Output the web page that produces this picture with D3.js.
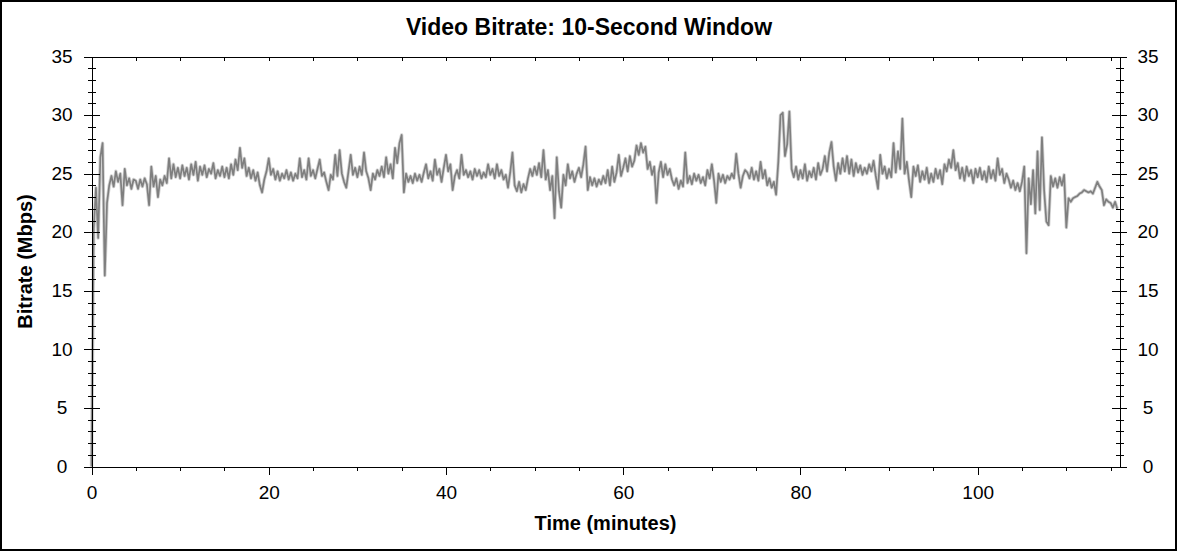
<!DOCTYPE html>
<html><head><meta charset="utf-8">
<script src="https://cdn.jsdelivr.net/npm/d3@7"></script>
<style>
body{margin:0;background:#fff}
svg{display:block}
text{font-family:"Liberation Sans", Arial, sans-serif;fill:#000}
</style>
</head><body>
<svg id="c" width="1178" height="552"></svg>
<script>
const chartTitle = "Video Bitrate: 10-Second Window";
const xLabel = "Time (minutes)";
const yLabel = "Bitrate (Mbps)";
const stepMinutes = 0.25;
// Bitrate (Mbps), one value every 0.25 minute
const bitrate = [
  0, 20.3, 23.8, 19.5, 26.4, 27.6, 16.3, 22.5, 24.0, 24.8, 23.9, 25.2, 24.3, 25.0, 22.3, 25.4, 24.0, 24.6, 23.7, 24.5,
  24.4, 23.7, 24.5, 23.9, 24.6, 24.1, 22.3, 25.6, 23.9, 24.8, 23.0, 24.5, 24.0, 24.8, 24.2, 26.3, 24.6, 25.8, 24.7, 25.5,
  24.6, 25.7, 24.8, 25.5, 24.5, 25.8, 24.9, 26.0, 24.4, 25.6, 24.9, 25.7, 24.7, 25.4, 25.0, 25.9, 24.6, 25.3, 24.8, 25.6,
  24.7, 25.5, 24.6, 25.8, 24.9, 26.2, 25.3, 27.2, 25.5, 26.3, 24.8, 25.5, 24.6, 25.3, 24.4, 25.1, 24.0, 23.4, 24.5, 25.2,
  26.3, 24.9, 25.4, 24.5, 25.2, 24.4, 25.0, 24.6, 25.3, 24.5, 25.1, 24.4, 25.0, 24.6, 26.3, 24.7, 25.3, 24.5, 26.3, 24.8,
  25.3, 24.6, 25.4, 26.2, 24.8, 25.1, 24.3, 23.6, 24.9, 24.5, 26.6, 24.8, 27.0, 25.0, 24.3, 23.8, 25.2, 26.6, 24.9, 25.5,
  24.7, 25.6, 24.9, 26.8, 25.2, 24.6, 23.6, 25.0, 24.5, 25.3, 24.8, 25.6, 24.7, 26.4, 25.0, 25.8, 24.6, 27.2, 25.9, 27.6,
  28.3, 23.4, 25.0, 24.3, 24.8, 24.2, 25.0, 24.4, 24.9, 24.3, 25.1, 25.8, 24.6, 25.2, 24.4, 26.2, 24.9, 25.4, 24.3, 25.5,
  26.6, 25.2, 25.8, 23.6, 24.8, 25.3, 24.6, 26.6, 24.9, 25.3, 24.7, 25.2, 24.5, 25.4, 24.8, 25.3, 24.6, 25.1, 24.7, 25.8,
  24.9, 25.4, 24.6, 25.8, 24.8, 25.3, 24.5, 24.9, 23.8, 25.1, 26.8, 24.0, 23.5, 24.3, 23.4, 24.1, 23.6, 24.6, 25.4, 24.8,
  25.6, 24.9, 25.9, 24.7, 27.0, 24.5, 25.3, 23.6, 24.8, 21.2, 26.4, 23.5, 22.1, 24.9, 24.0, 25.8, 24.6, 25.2, 24.3, 25.0,
  25.5, 24.7, 25.8, 27.3, 23.6, 24.7, 24.0, 24.6, 23.9, 24.5, 24.1, 24.8, 24.2, 25.3, 24.0, 25.6, 24.3, 25.1, 26.6, 24.8,
  25.5, 26.3, 25.2, 26.5, 25.6, 26.1, 27.4, 26.6, 27.6, 26.8, 27.3, 25.4, 26.0, 24.9, 25.6, 22.5, 25.1, 26.0, 24.7, 25.8,
  24.9, 25.4, 24.5, 24.0, 24.6, 23.7, 24.4, 23.9, 26.8, 24.2, 24.8, 24.1, 25.0, 24.4, 24.9, 24.2, 24.7, 24.0, 25.3, 24.6,
  25.8, 24.4, 22.5, 25.0, 24.3, 24.9, 24.2, 24.8, 24.5, 25.0, 24.6, 26.7, 25.0, 23.8, 24.8, 25.3, 25.1, 24.6, 25.5, 24.5,
  25.2, 24.4, 26.0, 24.6, 25.3, 24.0, 24.6, 23.8, 24.3, 23.2, 26.0, 30.0, 30.2, 26.5, 27.5, 30.3, 25.4, 24.7, 25.6, 24.5,
  25.3, 24.6, 25.8, 24.4, 25.2, 24.7, 25.5, 24.5, 25.9, 24.9, 25.4, 26.5, 25.2, 26.8, 27.7, 25.6, 24.4, 25.9, 25.0, 26.3,
  25.2, 26.5, 25.0, 26.2, 24.8, 25.9, 25.1, 25.7, 24.9, 25.5, 25.0, 25.8, 25.2, 26.1, 24.8, 23.7, 26.6, 25.0, 25.6, 24.6,
  25.4, 24.7, 27.6, 25.1, 26.9, 25.4, 29.7, 25.0, 26.0, 24.4, 23.0, 25.6, 24.8, 25.7, 24.3, 25.2, 24.5, 25.5, 24.2, 25.0,
  24.3, 25.4, 24.6, 25.3, 24.1, 25.8, 25.2, 26.2, 25.5, 27.0, 25.3, 25.9, 24.6, 25.5, 24.4, 25.6, 24.8, 25.3, 24.2, 25.4,
  24.7, 25.5, 24.5, 25.2, 24.3, 25.6, 24.6, 25.3, 24.4, 26.3, 24.9, 25.4, 24.2, 25.0, 24.5, 23.8, 24.4, 23.6, 24.2, 23.5,
  24.3, 25.6, 18.2, 24.6, 22.4, 25.3, 21.6, 26.9, 21.9, 28.1, 23.5, 20.9, 20.6, 24.8, 23.9, 24.6, 23.8, 24.7, 24.0, 24.9,
  20.4, 22.9, 22.6, 22.9, 23.0, 23.1, 23.3, 23.4, 23.6, 23.5, 23.4, 23.5, 23.3, 23.8, 24.3, 23.9, 23.6, 22.3, 22.8, 22.6,
  22.5, 22.1, 22.6, 22.0
];
const xMajorTicks = [0, 20, 40, 60, 80, 100];
const xMinorTicks = [0, 5, 10, 15, 20, 25, 30, 35, 40, 45, 50, 55, 60, 65, 70, 75, 80, 85, 90, 95, 100, 105, 110, 115];
const yMajorTicks = [0, 5, 10, 15, 20, 25, 30, 35];
const yMinorTicks = [0,1,2,3,4,5,6,7,8,9,10,11,12,13,14,15,16,17,18,19,20,21,22,23,24,25,26,27,28,29,30,31,32,33,34,35];
const xDomain = [0, 116];
const yDomain = [0, 35];

const svg = d3.select("#c");
const L = 91.5, R = 1119.5, T = 56.5, B = 466.5;
const x = d3.scaleLinear().domain(xDomain).range([L, R]);
const y = d3.scaleLinear().domain(yDomain).range([B, T]);

svg.append("rect").attr("x", 1).attr("y", 1).attr("width", 1175).attr("height", 549)
  .attr("fill", "#fff").attr("stroke", "#000").attr("stroke-width", 2);

// data line
const pts = bitrate.map((v, i) => [i * stepMinutes, v]);
const line = d3.line().x(d => x(d[0])).y(d => y(d[1]));
svg.append("path").datum(pts).attr("d", line).attr("fill", "none")
  .attr("stroke", "#d2d2d2").attr("stroke-width", 3.4).attr("stroke-linejoin", "round");
svg.append("path").datum(pts).attr("d", line).attr("fill", "none")
  .attr("stroke", "#7f7f7f").attr("stroke-width", 1.7).attr("stroke-linejoin", "round");

function styleAxis(g, keepDomain) {
  g.selectAll("line").attr("stroke", "#000").attr("shape-rendering", "crispEdges");
  g.select(".domain").attr("stroke", keepDomain ? "#000" : "none").attr("shape-rendering", "crispEdges");
  g.selectAll("text").style("font-size", "19px").attr("fill", "#000");
}

// left axis
svg.append("g").attr("transform", `translate(${L},0)`)
  .call(d3.axisLeft(y).tickValues(yMinorTicks).tickSize(4).tickSizeOuter(0).tickFormat(""))
  .call(g => styleAxis(g, true));
svg.append("g").attr("transform", `translate(${L},0)`)
  .call(d3.axisLeft(y).tickValues(yMinorTicks).tickSize(-4).tickSizeOuter(0).tickFormat(""))
  .call(g => styleAxis(g, false));
svg.append("g").attr("transform", `translate(${L},0)`)
  .call(d3.axisLeft(y).tickValues(yMajorTicks).tickSize(-8).tickSizeOuter(0).tickFormat(""))
  .call(g => styleAxis(g, false));
svg.append("g").attr("transform", `translate(${L},0)`)
  .call(d3.axisLeft(y).tickValues(yMajorTicks).tickSize(7.5).tickSizeOuter(0).tickFormat(d3.format("d")))
  .call(g => styleAxis(g, false))
  .call(g => g.selectAll("text").attr("text-anchor", "middle").attr("x", -29.5).attr("dy", "0.3em"));

// right axis
svg.append("g").attr("transform", `translate(${R},0)`)
  .call(d3.axisRight(y).tickValues(yMinorTicks).tickSize(4).tickSizeOuter(0).tickFormat(""))
  .call(g => styleAxis(g, true));
svg.append("g").attr("transform", `translate(${R},0)`)
  .call(d3.axisRight(y).tickValues(yMinorTicks).tickSize(-4).tickSizeOuter(0).tickFormat(""))
  .call(g => styleAxis(g, false));
svg.append("g").attr("transform", `translate(${R},0)`)
  .call(d3.axisRight(y).tickValues(yMajorTicks).tickSize(-8).tickSizeOuter(0).tickFormat(""))
  .call(g => styleAxis(g, false));
svg.append("g").attr("transform", `translate(${R},0)`)
  .call(d3.axisRight(y).tickValues(yMajorTicks).tickSize(7.5).tickSizeOuter(0).tickFormat(d3.format("d")))
  .call(g => styleAxis(g, false))
  .call(g => g.selectAll("text").attr("text-anchor", "middle").attr("x", 28.5).attr("dy", "0.3em"));

// bottom axis
svg.append("g").attr("transform", `translate(0,${B})`)
  .call(d3.axisBottom(x).tickValues(xMinorTicks).tickSize(4).tickSizeOuter(0).tickFormat(""))
  .call(g => styleAxis(g, true));
svg.append("g").attr("transform", `translate(0,${B})`)
  .call(d3.axisBottom(x).tickValues(xMajorTicks).tickSize(8).tickSizeOuter(0).tickPadding(11).tickFormat(d3.format("d")))
  .call(g => styleAxis(g, false));

// top axis
svg.append("g").attr("transform", `translate(0,${T})`)
  .call(d3.axisTop(x).tickValues(xMinorTicks).tickSize(-4.5).tickSizeOuter(0).tickFormat(""))
  .call(g => styleAxis(g, true));

// titles
svg.append("text").attr("x", 589).attr("y", 35).attr("text-anchor", "middle")
  .style("font-size", "23px").style("font-weight", "bold").text(chartTitle);
svg.append("text").attr("x", (L + R) / 2).attr("y", 530).attr("text-anchor", "middle")
  .style("font-size", "20px").style("font-weight", "bold").text(xLabel);
svg.append("text").attr("transform", `translate(32,${(T + B) / 2}) rotate(-90)`).attr("text-anchor", "middle")
  .style("font-size", "20px").style("font-weight", "bold").text(yLabel);
</script>
</body></html>
